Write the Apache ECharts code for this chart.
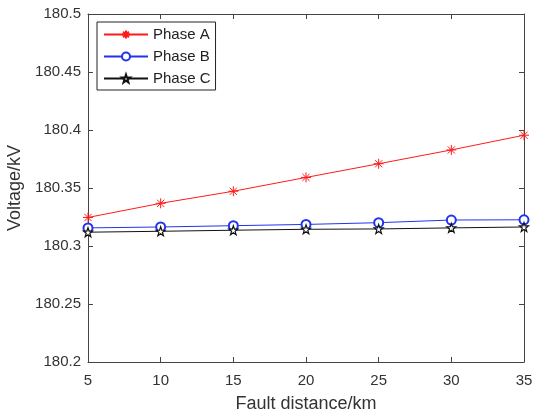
<!DOCTYPE html>
<html>
<head>
<meta charset="utf-8">
<script src="https://cdn.jsdelivr.net/npm/echarts@6/dist/echarts.min.js"></script>
<style>
  html, body { margin: 0; padding: 0; background: #fff; }
  #chart { width: 535px; height: 414px; }
</style>
</head>
<body>
<div id="chart"></div>
<script>
// fault distance (km)
const distances = [5, 10, 15, 20, 25, 30, 35];
// voltage (kV) per phase
const phaseA = [180.3246, 180.3368, 180.3472, 180.3591, 180.3709, 180.3828, 180.3955];
const phaseB = [180.3156, 180.3164, 180.3175, 180.3186, 180.3201, 180.3224, 180.3226];
const phaseC = [180.3119, 180.3127, 180.3136, 180.3144, 180.3147, 180.3156, 180.3164];

const asterisk = 'path://M0,-5L0,5M-5,0L5,0M-3.6,-3.6L3.6,3.6M-3.6,3.6L3.6,-3.6';
const star = 'path://M0,-5L1.18,-1.62L4.76,-1.55L1.9,0.62L2.94,4.05L0,2L-2.94,4.05L-1.9,0.62L-4.76,-1.55L-1.18,-1.62Z';

function pairs(ys) {
  return distances.map((x, i) => [x, ys[i]]);
}

const chart = echarts.init(document.getElementById('chart'));

const axisColor = '#444';
const font = 'Liberation Sans, Arial, sans-serif';

const option = {
  animation: false,
  grid: { left: 88, right: 11, top: 14, bottom: 52, outerBoundsMode: 'none' },
  legend: {
    left: 97,
    top: 22,
    orient: 'vertical',
    borderColor: '#222',
    borderWidth: 1,
    padding: [5, 5, 4, 6],
    itemWidth: 44,
    itemHeight: 10,
    itemGap: 7,
    textStyle: { fontFamily: font, fontSize: 15, color: '#222' },
    data: ['Phase A', 'Phase B', 'Phase C']
  },
  xAxis: [
    {
      type: 'value', min: 5, max: 35, interval: 5,
      name: 'Fault distance/km', nameLocation: 'middle', nameGap: 33,
      nameTextStyle: { fontFamily: font, fontSize: 18, color: '#333' },
      axisLine: { lineStyle: { color: axisColor } },
      axisTick: { inside: true, length: 5, lineStyle: { color: axisColor } },
      axisLabel: { margin: 11, fontFamily: font, fontSize: 15, color: '#333' },
      splitLine: { show: false }
    },
    {
      type: 'value', min: 5, max: 35, interval: 5, position: 'top',
      axisLine: { show: true, lineStyle: { color: axisColor } },
      axisTick: { show: true, inside: true, length: 5, lineStyle: { color: axisColor } },
      axisLabel: { show: false },
      splitLine: { show: false }
    }
  ],
  yAxis: [
    {
      type: 'value', min: 180.2, max: 180.5, interval: 0.05,
      name: 'Voltage/kV', nameLocation: 'middle', nameGap: 62,
      nameTextStyle: { fontFamily: font, fontSize: 18, color: '#333' },
      axisLine: { show: true, lineStyle: { color: axisColor } },
      axisTick: { show: true, inside: true, length: 5, lineStyle: { color: axisColor } },
      axisLabel: {
        margin: 7, fontFamily: font, fontSize: 15, color: '#333',
        formatter: v => String(+v.toFixed(2))
      },
      splitLine: { show: false }
    },
    {
      type: 'value', min: 180.2, max: 180.5, interval: 0.05, position: 'right',
      axisLine: { show: true, lineStyle: { color: axisColor } },
      axisTick: { show: true, inside: true, length: 5, lineStyle: { color: axisColor } },
      axisLabel: { show: false },
      splitLine: { show: false }
    }
  ],
  series: [
    {
      name: 'Phase A', type: 'line', data: pairs(phaseA),
      symbol: asterisk, symbolSize: 10, showAllSymbol: true,
      lineStyle: { color: '#ff1a1a', width: 1 },
      itemStyle: { color: '#ff1a1a', borderColor: '#ff1a1a', borderWidth: 1 }
    },
    {
      name: 'Phase B', type: 'line', data: pairs(phaseB),
      symbol: 'emptyCircle', symbolSize: 9,
      lineStyle: { color: '#2233ee', width: 1 },
      itemStyle: { color: '#2233ee', borderColor: '#2233ee', borderWidth: 1.2 }
    },
    {
      name: 'Phase C', type: 'line', data: pairs(phaseC),
      symbol: star, symbolSize: 9,
      lineStyle: { color: '#111', width: 1 },
      itemStyle: { color: '#fff', borderColor: '#111', borderWidth: 1.2 }
    }
  ]
};

chart.setOption(option);
</script>
</body>
</html>
